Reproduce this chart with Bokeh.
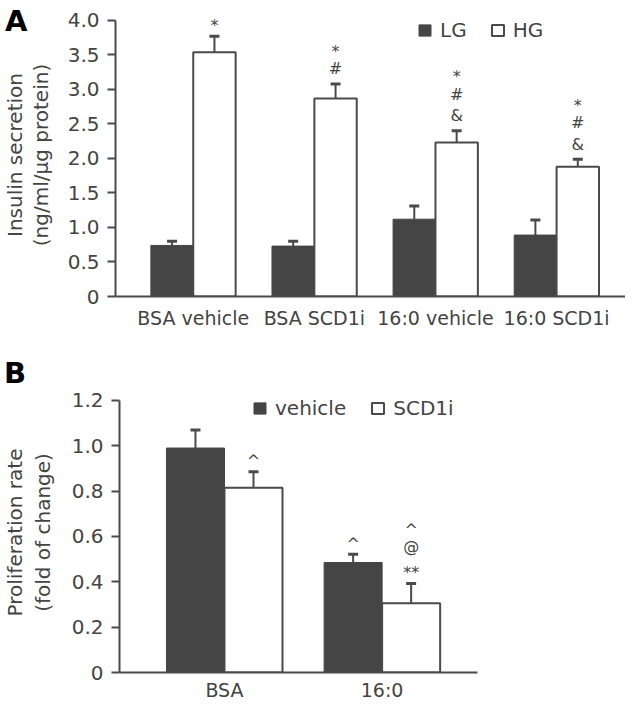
from bokeh.plotting import figure
from bokeh.models import (ColumnDataSource, FixedTicker, Whisker, TeeHead,
                          Legend, LegendItem, Div)
from bokeh.embed import file_html
from bokeh.resources import INLINE
from bokeh.core.properties import value

# ---------------- Panel A data ----------------
a_categories = ["BSA vehicle", "BSA SCD1i", "16:0 vehicle", "16:0 SCD1i"]
a_series = ["LG", "HG"]
a_lg = [0.74, 0.73, 1.12, 0.89]
a_lg_err = [0.06, 0.07, 0.19, 0.22]
a_hg = [3.54, 2.87, 2.23, 1.88]
a_hg_err = [0.23, 0.21, 0.17, 0.11]
a_lg_marks = [[], [], [], []]
a_hg_marks = [["*"], ["*", "#"], ["*", "#", "&"], ["*", "#", "&"]]
a_yticks = [0, 0.5, 1.0, 1.5, 2.0, 2.5, 3.0, 3.5, 4.0]
a_ytick_labels = ["0", "0.5", "1.0", "1.5", "2.0", "2.5", "3.0", "3.5", "4.0"]
a_ylabel = "Insulin secretion\n(ng/ml/\u03bcg protein)"

# ---------------- Panel B data ----------------
b_categories = ["BSA", "16:0"]
b_series = ["vehicle", "SCD1i"]
b_vehicle = [0.99, 0.485]
b_vehicle_err = [0.08, 0.037]
b_scd1i = [0.815, 0.305]
b_scd1i_err = [0.07, 0.088]
b_vehicle_marks = [[], ["^"]]
b_scd1i_marks = [["^"], ["^", "@", "**"]]
b_yticks = [0, 0.2, 0.4, 0.6, 0.8, 1.0, 1.2]
b_ytick_labels = ["0", "0.2", "0.4", "0.6", "0.8", "1.0", "1.2"]
b_ylabel = "Proliferation rate\n(fold of change)"

FONT = "DejaVu Sans"
TEXT = "#444444"
DARK = "#454545"
LINE = "#4a4a4a"


def make_panel(cats, names, v1, e1, m1, v2, e2, m2, yticks, ytlabels, ylabel,
               cfg):
    n = len(cats)
    w = cfg["bar_w"]
    p = figure(width=625, height=cfg["height"],
               x_range=cfg["x_range"], y_range=(0, cfg["y_end"]),
               output_backend="svg", toolbar_location=None,
               min_border_left=cfg["border_left"],
               min_border_right=cfg["border_right"],
               min_border_top=cfg["border_top"],
               min_border_bottom=cfg["border_bottom"])
    p.grid.visible = False
    p.outline_line_color = None
    p.background_fill_color = "white"
    p.border_fill_alpha = 0

    x1 = [i - w / 2 for i in range(n)]
    x2 = [i + w / 2 for i in range(n)]
    r1 = p.vbar(x=x1, top=v1, width=w, fill_color=DARK, line_color=DARK,
                line_width=1)
    r2 = p.vbar(x=x2, top=v2, width=w, fill_color="white", line_color=LINE,
                line_width=2)

    for xs, vs, es in ((x1, v1, e1), (x2, v2, e2)):
        src = ColumnDataSource(dict(base=xs, lower=vs,
                                    upper=[a + b for a, b in zip(vs, es)]))
        p.add_layout(Whisker(source=src, base="base", lower="lower",
                             upper="upper", dimension="height",
                             lower_head=None,
                             upper_head=TeeHead(size=10, line_color=LINE,
                                                line_width=3),
                             line_color=LINE, line_width=2))

    # significance marks stacked above the error bars
    mx, my, mt, mo = [], [], [], []
    for xs, vs, es, ms in ((x1, v1, e1, m1), (x2, v2, e2, m2)):
        for i in range(n):
            stack = list(reversed(ms[i]))
            for k, s in enumerate(stack):
                mx.append(xs[i])
                my.append(vs[i] + es[i])
                mt.append(s)
                off = -(15 + 21.5 * k)
                if s[0] in "*^":
                    off += 4
                mo.append(off)
    p.text(x=mx, y=my, text=mt, y_offset=mo, text_align="center",
           text_baseline="middle", text_font=value(FONT),
           text_font_size="16px", text_color=TEXT)

    # y axis
    ya = p.yaxis[0]
    ya.ticker = FixedTicker(ticks=yticks)
    ya.major_label_overrides = {t: l for t, l in zip(yticks, ytlabels)}
    ya.bounds = (0, yticks[-1])
    ya.axis_line_width = 2
    ya.axis_line_color = LINE
    ya.major_tick_line_width = 2
    ya.major_tick_line_color = LINE
    ya.major_tick_out = 8
    ya.major_tick_in = 0
    ya.minor_tick_out = 0
    ya.minor_tick_in = 0
    ya.major_label_standoff = 8
    ya.major_label_text_font = FONT
    ya.major_label_text_font_size = "20px"
    ya.major_label_text_color = TEXT
    ya.axis_label = ylabel
    ya.axis_label_text_font = FONT
    ya.axis_label_text_font_size = "20px"
    ya.axis_label_text_font_style = "normal"
    ya.axis_label_text_color = TEXT
    ya.axis_label_text_line_height = cfg["ylabel_lh"]
    ya.axis_label_standoff = cfg["ylabel_standoff"]

    # x axis
    xa = p.xaxis[0]
    xa.ticker = FixedTicker(ticks=list(range(n)))
    xa.major_label_overrides = {i: c for i, c in enumerate(cats)}
    xa.axis_line_width = 2
    xa.axis_line_color = LINE
    xa.major_tick_out = 0
    xa.major_tick_in = 0
    xa.minor_tick_out = 0
    xa.minor_tick_in = 0
    xa.major_label_standoff = cfg["xlabel_standoff"]
    xa.major_label_text_font = FONT
    xa.major_label_text_font_size = "19px"
    xa.major_label_text_color = TEXT

    legend = Legend(items=[LegendItem(label=names[0], renderers=[r1]),
                           LegendItem(label=names[1], renderers=[r2])],
                    orientation="horizontal", location=cfg["legend_loc"],
                    border_line_alpha=0, background_fill_alpha=0,
                    padding=0, margin=0, spacing=cfg["legend_spacing"],
                    label_standoff=8, glyph_width=15, glyph_height=14,
                    label_height=22,
                    label_text_font=FONT, label_text_font_size="20px",
                    label_text_color=TEXT)
    p.add_layout(legend)
    return p


cfg_a = dict(height=337, x_range=(-0.642, 3.569), y_end=4.1, bar_w=0.35,
             border_left=107, border_right=0, border_top=13, border_bottom=41,
             ylabel_standoff=12, ylabel_lh=1.05, xlabel_standoff=10,
             legend_loc=(302, 254), legend_spacing=23)
cfg_b = dict(height=366, x_range=(-0.666, 1.605), y_end=1.235, bar_w=0.368,
             border_left=110, border_right=148, border_top=55, border_bottom=31,
             ylabel_standoff=14, ylabel_lh=1.15, xlabel_standoff=6,
             legend_loc=(133, 252), legend_spacing=24)

pa = make_panel(a_categories, a_series, a_lg, a_lg_err, a_lg_marks,
                a_hg, a_hg_err, a_hg_marks, a_yticks, a_ytick_labels,
                a_ylabel, cfg_a)
pb = make_panel(b_categories, b_series, b_vehicle, b_vehicle_err,
                b_vehicle_marks, b_scd1i, b_scd1i_err, b_scd1i_marks,
                b_yticks, b_ytick_labels, b_ylabel, cfg_b)

# panel letters, overlaid as html text
letter_css = ("position:absolute; left:%dpx; top:%dpx; font-family:'DejaVu Sans';"
              " font-weight:bold; font-size:29px; line-height:1; color:#000;")
div_b = Div(text='<div style="%s">B</div>' % (letter_css % (-1, -349)),
            width=40, height=1, styles={"overflow": "visible"})
div_a = Div(text='<div style="%s">A</div>' % (letter_css % (0, -707)),
            width=40, height=1, styles={"overflow": "visible"})

open("out.html", "w").write(file_html([pa, pb, div_b, div_a], INLINE))
